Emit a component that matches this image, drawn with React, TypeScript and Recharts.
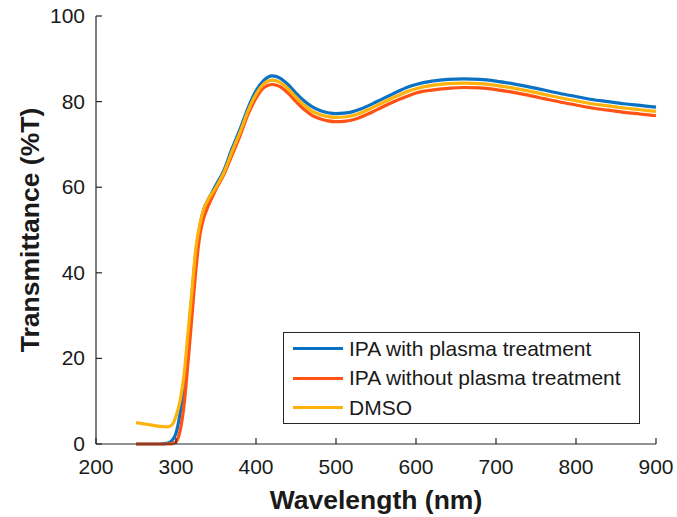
import { LineChart, Line, XAxis, YAxis, Legend } from "recharts";

// wavelength in nm
const wavelengths = [
  250, 260, 270, 280, 290, 295, 300, 305, 310, 315, 320, 325, 330, 335, 340,
  350, 360, 370, 380, 390, 400, 410, 420, 430, 440, 450, 460, 470, 480, 490,
  500, 510, 520, 530, 540, 550, 560, 570, 580, 590, 600, 620, 640, 660, 680,
  700, 720, 740, 760, 780, 800, 820, 840, 860, 880, 900,
];

const ipaPlasma = [
  0, 0, 0, 0, 0.2, 0.8, 2.5, 7, 14, 24, 35, 45, 51, 55, 57,
  60.5, 64, 69, 73.5, 78.5, 82.5, 85, 86, 85.5, 84, 82, 80.2, 78.8, 77.9, 77.4,
  77.2, 77.3, 77.6, 78.2, 79, 79.9, 80.8, 81.7, 82.6, 83.4, 84, 84.8, 85.2, 85.3, 85.2,
  84.8, 84.2, 83.5, 82.7, 81.9, 81.2, 80.5, 80, 79.5, 79.1, 78.7,
];

const ipaNoPlasma = [
  0, 0, 0, 0, 0, 0.1, 0.5, 3, 9, 19, 30, 41, 49, 53, 55.5,
  59.5, 63, 67.5, 72, 77, 80.8, 83.3, 84, 83.5, 82, 80, 78.2, 76.8, 76, 75.5,
  75.3, 75.4, 75.7, 76.3, 77.1, 78, 78.9, 79.8, 80.6, 81.3, 82, 82.7, 83.1, 83.3, 83.2,
  82.8, 82.2, 81.5, 80.7, 79.9, 79.2, 78.5, 78, 77.5, 77.1, 76.7,
];

const dmso = [
  5, 4.7, 4.4, 4.1, 4, 4.5, 6.5, 10, 16, 26, 36, 46, 51.5, 55, 57,
  60, 63.5, 68.3, 72.8, 77.8, 81.7, 84.2, 85, 84.5, 83, 81, 79.2, 77.8, 77, 76.5,
  76.3, 76.4, 76.7, 77.3, 78.1, 79, 79.9, 80.8, 81.6, 82.4, 83, 83.8, 84.2, 84.3, 84.2,
  83.8, 83.2, 82.5, 81.7, 80.9, 80.2, 79.5, 79, 78.5, 78.1, 77.7,
];

const xTicks = [200, 300, 400, 500, 600, 700, 800, 900];
const yTicks = [0, 20, 40, 60, 80, 100];

const series = [
  { key: "ipaPlasma", name: "IPA with plasma treatment", color: "#0A72C4" },
  { key: "ipaNoPlasma", name: "IPA without plasma treatment", color: "#FF5214" },
  { key: "dmso", name: "DMSO", color: "#FFB20A" },
];

const data = wavelengths.map((wl, i) => ({
  wl,
  ipaPlasma: ipaPlasma[i],
  ipaNoPlasma: ipaNoPlasma[i],
  dmso: dmso[i],
}));

const FONT = "'Liberation Sans', Arial, Helvetica, sans-serif";
const AXIS = "#262626";
const TICK_LEN = 6;

function BottomTick({ x, y, payload }: any) {
  return (
    <g>
      <line x1={x} x2={x} y1={y} y2={y - TICK_LEN} stroke={AXIS} strokeWidth={1.2} />
      <text x={x} y={y + 30} textAnchor="middle" fontSize={21} fill="#1a1a1a" fontFamily={FONT}>
        {payload.value}
      </text>
    </g>
  );
}

function LeftTick({ x, y, payload }: any) {
  return (
    <g>
      <line x1={x} x2={x + TICK_LEN} y1={y} y2={y} stroke={AXIS} strokeWidth={1.2} />
      <text x={x - 11} y={y + 7} textAnchor="end" fontSize={21} fill="#1a1a1a" fontFamily={FONT}>
        {payload.value}
      </text>
    </g>
  );
}

function TopTick({ x, y }: any) {
  return <line x1={x} x2={x} y1={y} y2={y + TICK_LEN} stroke={AXIS} strokeWidth={1.2} />;
}

function RightTick({ x, y }: any) {
  return <line x1={x} x2={x - TICK_LEN} y1={y} y2={y} stroke={AXIS} strokeWidth={1.2} />;
}

function YTitle({ viewBox }: any) {
  const cx = 30;
  const cy = viewBox.y + viewBox.height / 2;
  return (
    <text
      x={cx}
      y={cy}
      transform={`rotate(-90, ${cx}, ${cy})`}
      textAnchor="middle"
      dominantBaseline="central"
      fontSize={26.5}
      fontWeight="bold"
      fill="#1a1a1a"
      fontFamily={FONT}
    >
      Transmittance (%T)
    </text>
  );
}

function LegendBox() {
  return (
    <div
      style={{
        border: `1.3px solid ${AXIS}`,
        background: "#fff",
        padding: "1px 0 4px 9px",
        fontFamily: FONT,
        fontSize: 21,
        color: "#1a1a1a",
        boxSizing: "border-box",
        width: 357,
        height: 92,
      }}
    >
      {series.map((s) => (
        <div key={s.key} style={{ display: "flex", alignItems: "center", height: 29.5 }}>
          <span style={{ width: 50, height: 3, background: s.color, marginRight: 6 }} />
          <span>{s.name}</span>
        </div>
      ))}
    </div>
  );
}

export default function App() {
  return (
    <div style={{ position: "absolute", left: 0, top: 0, width: 677, height: 517, background: "#fff" }}>
      <LineChart width={677} height={517} data={data} margin={{ top: 16, right: 21, bottom: 0, left: 0 }}>
        <XAxis
          dataKey="wl"
          type="number"
          domain={[200, 900]}
          ticks={xTicks}
          interval={0}
          height={73}
          tickSize={0}
          tickMargin={0}
          tickLine={false}
          tick={<BottomTick />}
          stroke={AXIS}
          strokeWidth={1.2}
          label={{
            value: "Wavelength (nm)",
            position: "insideBottom",
            offset: 8,
            fontSize: 26.5,
            fontWeight: "bold",
            fill: "#1a1a1a",
            fontFamily: FONT,
          }}
        />
        <XAxis
          xAxisId="top"
          dataKey="wl"
          type="number"
          orientation="top"
          domain={[200, 900]}
          ticks={xTicks}
          interval={0}
          height={0}
          tickSize={0}
          tickMargin={0}
          tickLine={false}
          tick={<TopTick />}
          stroke={AXIS}
          strokeWidth={1.2}
        />
        <YAxis
          type="number"
          domain={[0, 100]}
          ticks={yTicks}
          interval={0}
          width={96}
          tickSize={0}
          tickMargin={0}
          tickLine={false}
          tick={<LeftTick />}
          stroke={AXIS}
          strokeWidth={1.2}
          label={<YTitle />}
        />
        <YAxis
          yAxisId="right"
          type="number"
          orientation="right"
          domain={[0, 100]}
          ticks={yTicks}
          interval={0}
          width={0}
          tickSize={0}
          tickMargin={0}
          tickLine={false}
          tick={<RightTick />}
          stroke={AXIS}
          strokeWidth={1.2}
        />
        {series.map((s) => (
          <Line
            key={s.key}
            type="monotone"
            dataKey={s.key}
            name={s.name}
            stroke={s.color}
            strokeWidth={3.2}
            dot={false}
            isAnimationActive={false}
          />
        ))}
        <Legend
          layout="vertical"
          align="center"
          verticalAlign="middle"
          wrapperStyle={{ left: 283, top: 332, width: 357 }}
          content={<LegendBox />}
        />
      </LineChart>
    </div>
  );
}
